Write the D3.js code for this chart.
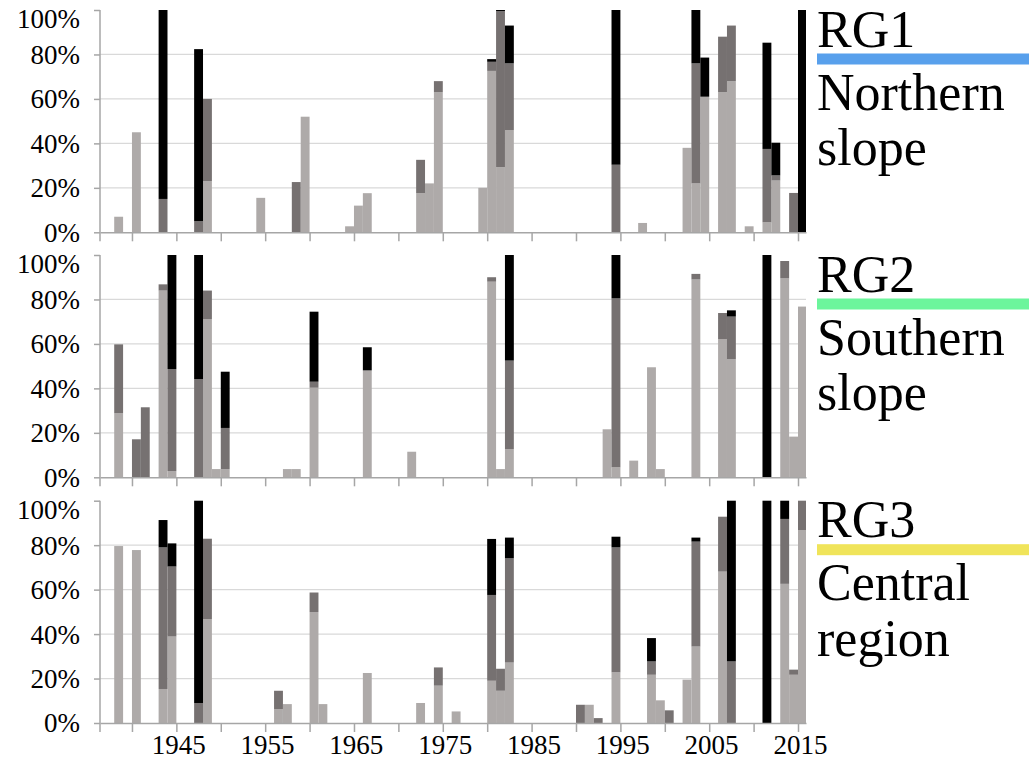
<!doctype html>
<html>
<head>
<meta charset="UTF-8">
<title>RG charts</title>
<script src="https://cdn.jsdelivr.net/npm/d3@7"></script>
<style>
	body { margin: 0; background: white; }
</style>
</head>
<body>
<script>

// ticks / labels
var yTicks = [0, 20, 40, 60, 80, 100];
var xTickYears = [1940, 1945, 1950, 1955, 1960, 1965, 1970, 1975, 1980, 1985, 1990, 1995, 2000, 2005, 2010, 2015];
var xLabelYears = [1945, 1955, 1965, 1975, 1985, 1995, 2005, 2015];

// RG1 - northern slope
var rg1Years = [1938, 1940, 1943, 1947, 1948, 1954, 1958, 1959, 1964, 1965, 1966, 1972, 1973, 1974, 1979, 1980, 1981, 1982, 1994, 1997, 2002, 2003, 2004, 2006, 2007, 2009, 2011, 2012, 2014, 2015];
var rg1Light = [7, 45, 0, 0, 23, 15.5, 0, 52, 2.7, 12, 17.6, 17.6, 22, 63, 20, 72.6, 29.3, 46, 0, 4.2, 38, 22, 61, 63, 68, 2.7, 4.5, 23.3, 0, 0];
var rg1Dark = [0, 0, 15, 5, 37, 0, 22.6, 0, 0, 0, 0, 15, 0, 5, 0, 4.1, 70.2, 30, 30.4, 0, 0, 54, 0, 25, 25, 0, 33, 2.3, 17.7, 0];
var rg1Black = [0, 0, 85, 77.4, 0, 0, 0, 0, 0, 0, 0, 0, 0, 0, 0, 1.2, 0.5, 17, 69.6, 0, 0, 24, 17.6, 0, 0, 0, 47.8, 14.7, 0, 100];

// RG2 - southern slope
var rg2Years = [1938, 1940, 1941, 1943, 1944, 1947, 1948, 1949, 1950, 1957, 1958, 1960, 1966, 1971, 1980, 1981, 1982, 1993, 1994, 1996, 1998, 1999, 2003, 2006, 2007, 2011, 2013, 2014, 2015];
var rg2Light = [28.8, 0, 0, 84, 2.8, 0, 71.2, 3.7, 3.7, 3.7, 3.7, 40.3, 48.1, 11.5, 88, 3.7, 12.7, 21.6, 4.5, 7.5, 49.5, 3.7, 89, 62.2, 53.1, 0, 89.5, 18.3, 76.8];
var rg2Dark = [31, 17.1, 31.5, 2.8, 45.9, 44.2, 12.8, 0, 18.5, 0, 0, 2.7, 0, 0, 2, 0, 39.8, 0, 76, 0, 0, 0, 2.5, 11.7, 19.2, 0, 7.8, 0, 0];
var rg2Black = [0, 0, 0, 0, 51.3, 55.8, 0, 0, 25.3, 0, 0, 31.5, 10.4, 0, 0, 0, 47.5, 0, 19.5, 0, 0, 0, 0, 0, 2.8, 100, 0, 0, 0];

// RG3 - central region
var rg3Years = [1938, 1940, 1943, 1944, 1947, 1948, 1956, 1957, 1960, 1961, 1966, 1972, 1974, 1976, 1980, 1981, 1982, 1990, 1991, 1992, 1994, 1998, 1999, 2000, 2002, 2003, 2006, 2007, 2011, 2013, 2014, 2015];
var rg3Light = [79.6, 77.8, 15.3, 38.9, 0, 46.7, 6.3, 8.5, 49.9, 8.5, 22.5, 9, 16.8, 5.2, 19, 14.5, 27.2, 0, 8.2, 0, 22.8, 21.7, 10.2, 0, 19.5, 34.4, 68.1, 0, 0, 62.6, 21.7, 86.8];
var rg3Dark = [0, 0, 63.7, 31.5, 9, 36.2, 8.2, 0, 8.8, 0, 0, 0, 8.2, 0, 38.6, 9.9, 46.9, 8.2, 0, 2.2, 56.2, 6, 0, 5.7, 0, 47.2, 24.7, 27.7, 0, 29.2, 2.3, 13.2];
var rg3Black = [0, 0, 12.3, 10.4, 91, 0, 0, 0, 0, 0, 0, 0, 0, 0, 25.2, 0, 9.3, 0, 0, 0, 4.8, 10.5, 0, 0, 0, 1.8, 0, 72.3, 100, 8.2, 0, 0];

var panels = [
	{ years: rg1Years, light: rg1Light, dark: rg1Dark, black: rg1Black, name: "RG1", line1: "Northern", line2: "slope", color: "#58a0ec" },
	{ years: rg2Years, light: rg2Light, dark: rg2Dark, black: rg2Black, name: "RG2", line1: "Southern", line2: "slope", color: "#6cf59c" },
	{ years: rg3Years, light: rg3Light, dark: rg3Dark, black: rg3Black, name: "RG3", line1: "Central", line2: "region", color: "#f0e45a" }
];

var keys = ["light", "dark", "black"];
var fills = { light: "#aeaaa9", dark: "#767171", black: "#000000" };
var serif = "Liberation Serif, DejaVu Serif, serif";

var width = 1029, height = 763;
var left = 100, right = 806;
var panelTops = [10, 255, 500.7];
var panelH = 222.3;

var svg = d3.select("body").append("svg")
	.attr("width", width)
	.attr("height", height);

var x = d3.scaleLinear().domain([1936.4, 2015.9]).range([left, right]);

panels.forEach(function (p, pi) {
	var top = panelTops[pi];
	var y = d3.scaleLinear().domain([0, 100]).range([top + panelH, top]);

	var rows = p.years.map(function (yr, i) {
		return { year: yr, light: p.light[i], dark: p.dark[i], black: p.black[i] };
	});
	var series = d3.stack().keys(keys)(rows);

	var g = svg.append("g");

	// gridlines (20..80)
	g.selectAll(".grid")
		.data(yTicks.filter(function (t) { return t > 0 && t < 100; }))
		.enter().append("line")
		.attr("x1", left).attr("x2", right)
		.attr("y1", function (d) { return y(d); })
		.attr("y2", function (d) { return y(d); })
		.attr("stroke", "#d9d9d9")
		.attr("stroke-width", 1.3);

	// stacked bars
	g.selectAll(".layer")
		.data(series)
		.enter().append("g")
		.attr("fill", function (s) { return fills[s.key]; })
		.selectAll("rect")
		.data(function (s) { return s; })
		.enter().append("rect")
		.attr("x", function (d) { return x(d.data.year); })
		.attr("width", function (d) { return Math.min(x(d.data.year + 1), right) - x(d.data.year); })
		.attr("y", function (d) { return y(d[1]); })
		.attr("height", function (d) { return y(d[0]) - y(d[1]); });

	// y axis
	var yAxis = g.append("g")
		.attr("transform", "translate(" + left + ",0)")
		.call(d3.axisLeft(y).tickValues(yTicks).tickSize(6).tickSizeOuter(0).tickPadding(14)
			.tickFormat(function (d) { return d + "%"; }));
	yAxis.attr("font-family", serif).attr("font-size", 27);
	yAxis.select(".domain").remove();
	yAxis.selectAll("line").attr("stroke", "#a6a6a6").attr("stroke-width", 1.5);
	yAxis.selectAll("text")
		.attr("fill", "#000")
		.attr("dy", "0.33em")
		.attr("transform", function (d) { return d === 100 ? "translate(0,9)" : null; });

	// axis lines
	g.append("line")
		.attr("x1", left).attr("x2", left)
		.attr("y1", top).attr("y2", top + panelH + 9)
		.attr("stroke", "#a6a6a6").attr("stroke-width", 1.5);

	var xAxis = g.append("g")
		.attr("transform", "translate(0," + (top + panelH) + ")")
		.call(d3.axisBottom(x).tickValues(xTickYears).tickSize(9).tickSizeOuter(0)
			.tickFormat(function (d) { return (pi === 2 && xLabelYears.indexOf(d) >= 0) ? d : ""; }));
	xAxis.attr("font-family", serif).attr("font-size", 27);
	xAxis.select(".domain").attr("stroke", "#a6a6a6").attr("stroke-width", 1.5);
	xAxis.selectAll("line").attr("stroke", "#a6a6a6").attr("stroke-width", 1.5);
	xAxis.selectAll("text")
		.attr("fill", "#000")
		.attr("y", 12)
		.attr("dx", "0.07em");

	// region labels on the right
	var labels = [[p.name, 36.7], [p.line1, 99.5], [p.line2, 155]];
	labels.forEach(function (l) {
		g.append("text")
			.attr("x", 817).attr("y", top + l[1])
			.attr("font-family", serif)
			.attr("font-size", 52)
			.attr("fill", "#000")
			.text(l[0]);
	});
	g.append("rect")
		.attr("x", 817).attr("y", top + 43.5)
		.attr("width", width - 817).attr("height", 11)
		.attr("fill", p.color);
});

</script>
</body>
</html>
